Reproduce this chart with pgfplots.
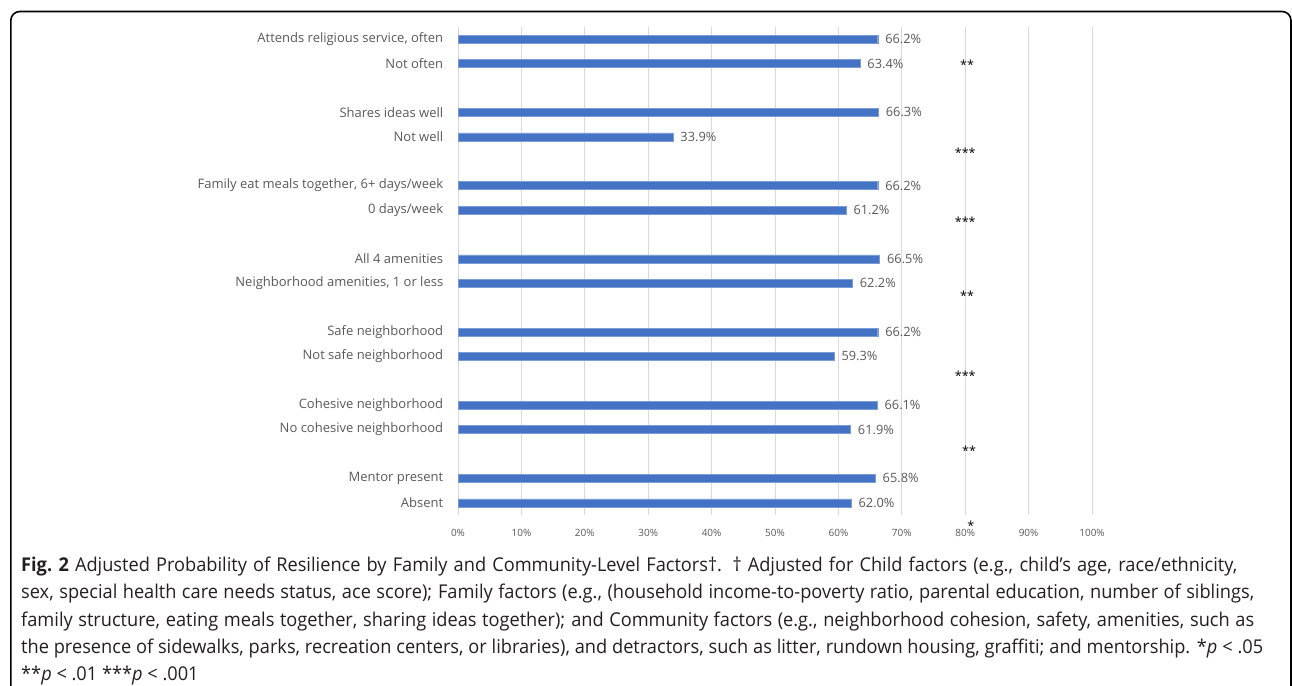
\documentclass[border=0pt]{standalone}
\usepackage{pgfplots}
\pgfplotsset{compat=1.18}
\usepackage{fontspec}
\setmainfont{Open Sans}
\newfontfamily\capfont{Open Sans}[FakeStretch=0.958]
\definecolor{barblue}{HTML}{4472C4}
\definecolor{lblgray}{HTML}{595959}
\definecolor{gridgray}{HTML}{D9D9D9}
\definecolor{capgray}{HTML}{231F20}
\begin{document}
\begin{tikzpicture}[x=1pt,y=1pt]
\useasboundingbox (0,0) rectangle (1292,-685);
\draw[line width=1.6pt, rounded corners=9pt] (10.8,-700) -- (10.8,-11.5) -- (1291,-11.5) -- (1291,-700);
\begin{axis}[
  at={(458pt,-27pt)}, anchor=north west,
  scale only axis, width=634pt, height=488pt,
  xmin=0, xmax=100, ymin=-0.5, ymax=19.5, y dir=reverse,
  xbar, bar width=8pt,
  axis line style={draw=none},
  tick style={draw=none},
  xmajorgrids, grid style={gridgray, line width=0.9pt},
  xtick={0,10,...,100},
  xticklabels={0\%,10\%,20\%,30\%,40\%,50\%,60\%,70\%,80\%,90\%,100\%},
  xticklabel style={font=\fontsize{10}{12}\selectfont, text=lblgray, yshift=-11pt},
  ytick={0,1,3,4,6,7,9,10,12,13,15,16,18,19},
  yticklabels={{Attends religious service, often}, Not often, Shares ideas well, Not well, {Family eat meals together, 6+ days/week}, 0 days/week, All 4 amenities, {Neighborhood amenities, 1 or less}, Safe neighborhood, Not safe neighborhood, Cohesive neighborhood, No cohesive neighborhood, Mentor present, Absent},
  yticklabel style={font=\fontsize{13}{15}\selectfont, text=lblgray, xshift=-7pt},
  nodes near coords={\pgfmathprintnumber[fixed,precision=1,fixed zerofill]{\pgfplotspointmeta}\%},
  nodes near coords style={font=\fontsize{12.8}{15}\selectfont, text=lblgray, xshift=4pt, /pgf/number format/assume math mode=true},
  clip=false,
]
\addplot[fill=barblue, draw=barblue!70!white] coordinates {
(66.2,0) (63.4,1) (66.3,3) (33.9,4) (66.2,6) (61.2,7) (66.5,9) (62.2,10)
(66.2,12) (59.3,13) (66.1,15) (61.9,16) (65.8,18) (62.0,19)};
\node[font=\fontsize{12.5}{14}\selectfont] at (axis cs:80.3,1.05) {**};
\node[font=\fontsize{12.5}{14}\selectfont] at (axis cs:80.0,4.65) {***};
\node[font=\fontsize{12.5}{14}\selectfont] at (axis cs:80.0,7.47) {***};
\node[font=\fontsize{12.5}{14}\selectfont] at (axis cs:80.3,10.53) {**};
\node[font=\fontsize{12.5}{14}\selectfont] at (axis cs:80.0,13.8) {***};
\node[font=\fontsize{12.5}{14}\selectfont] at (axis cs:80.6,16.87) {**};
\node[font=\fontsize{12.5}{14}\selectfont] at (axis cs:80.9,19.95) {*};
\end{axis}
\node[anchor=north west, inner sep=0pt, align=left, text=capgray, font=\capfont\fontsize{19}{27.2}\selectfont] at (21,-557) {%
\makebox[1216pt][s]{\mbox{\textbf{Fig. 2}} Adjusted Probability of Resilience by Family and Community-Level Factors†. † Adjusted for Child factors (e.g., child’s age, race/ethnicity,}\\
\makebox[1233pt][s]{sex, special health care needs status, ace score); Family factors (e.g., (household income-to-poverty ratio, parental education, number of siblings,}\\
\makebox[1233pt][s]{family structure, eating meals together, sharing ideas together); and Community factors (e.g., neighborhood cohesion, safety, amenities, such as}\\
\makebox[1242pt][s]{the presence of sidewalks, parks, recreation centers, or libraries), and detractors, such as litter, rundown housing, graffiti; and mentorship. *\textit{p} < .05}\\
**\textit{p} < .01 ***\textit{p} < .001};
\end{tikzpicture}
\end{document}
